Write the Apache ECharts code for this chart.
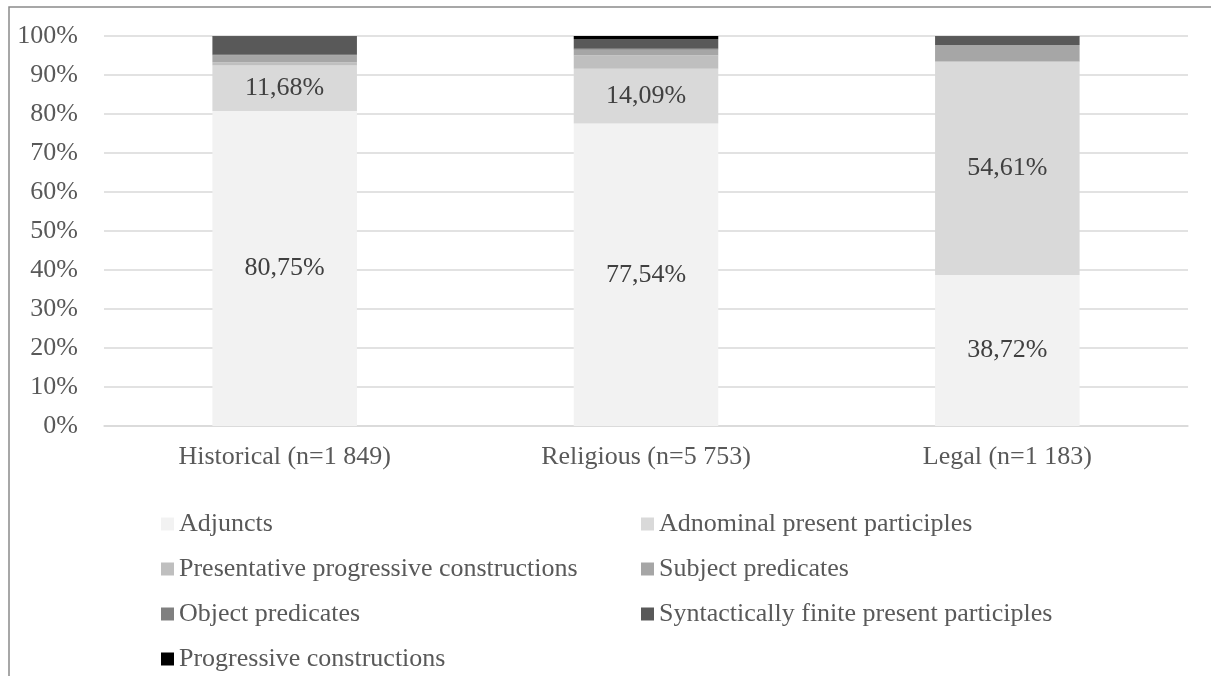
<!DOCTYPE html>
<html>
<head>
<meta charset="utf-8">
<script src="https://cdn.jsdelivr.net/npm/echarts@6/dist/echarts.min.js"></script>
<style>
  html, body { margin: 0; padding: 0; background: #fff; }
  #chart { width: 1211px; height: 676px; }
</style>
</head>
<body>
<div id="chart"></div>
<script>
const categories = ["Historical (n=1 849)", "Religious (n=5 753)", "Legal (n=1 183)"];
const seriesNames = [
  "Adjuncts",
  "Adnominal present participles",
  "Presentative progressive constructions",
  "Subject predicates",
  "Object predicates",
  "Syntactically finite present participles",
  "Progressive constructions"
];
const adjuncts = [80.75, 77.54, 38.72];
const adnominal = [11.68, 14.09, 54.61];
const presentative = [0.87, 3.42, 0.17];
const subjectPred = [1.73, 1.45, 4.22];
const objectPred = [0.16, 0.2, 0.0];
const synFinite = [4.76, 2.53, 2.2];
const progressive = [0.05, 0.77, 0.08];
const yTicks = [0, 10, 20, 30, 40, 50, 60, 70, 80, 90, 100];

const colors = ["#f2f2f2", "#d9d9d9", "#bfbfbf", "#a6a6a6", "#808080", "#595959", "#000000"];
const values = [adjuncts, adnominal, presentative, subjectPred, objectPred, synFinite, progressive];
const font = "'Liberation Serif', 'Times New Roman', serif";

let chart = echarts.init(document.getElementById("chart"));

let series = seriesNames.map((name, i) => ({
  name: name,
  type: "bar",
  stack: "total",
  barWidth: "40%",
  data: values[i],
  itemStyle: { color: colors[i] },
  label: {
    show: i < 2,
    position: "inside",
    color: "#404040",
    fontFamily: font,
    fontSize: 26,
    formatter: p => p.value.toFixed(2).replace(".", ",") + "%"
  },
  emphasis: { disabled: true }
}));

const legendText = { color: "#595959", fontFamily: font, fontSize: 26, lineHeight: 26 };

chart.setOption({
  animation: false,
  backgroundColor: "#fff",
  graphic: [{
    type: "rect",
    shape: { x: 9, y: 7, width: 1300, height: 800 },
    style: { fill: null, stroke: "#8a8a8a", lineWidth: 1.5 },
    silent: true
  }],
  grid: { left: 104, right: 23, top: 36, bottom: 250 },
  legend: [
    {
      orient: "vertical",
      left: 161,
      top: 511,
      padding: 0,
      itemWidth: 13,
      itemHeight: 13,
      itemGap: 19,
      itemTextGap: 5,
      icon: "rect",
      textStyle: legendText,
      data: [seriesNames[0], seriesNames[2], seriesNames[4], seriesNames[6]]
    },
    {
      orient: "vertical",
      left: 641,
      top: 511,
      padding: 0,
      itemWidth: 13,
      itemHeight: 13,
      itemGap: 19,
      itemTextGap: 5,
      icon: "rect",
      textStyle: legendText,
      data: [seriesNames[1], seriesNames[3], seriesNames[5]]
    }
  ],
  xAxis: {
    type: "category",
    data: categories,
    axisLine: { lineStyle: { color: "#d9d9d9", width: 1.5 } },
    axisTick: { show: false },
    axisLabel: { color: "#595959", fontFamily: font, fontSize: 26, margin: 18 }
  },
  yAxis: {
    type: "value",
    min: yTicks[0],
    max: yTicks[yTicks.length - 1],
    interval: 10,
    axisLine: { show: false },
    axisTick: { show: false },
    splitLine: { lineStyle: { color: "#d9d9d9", width: 1.5 } },
    axisLabel: {
      color: "#595959",
      fontFamily: font,
      fontSize: 26,
      margin: 26,
      formatter: v => v + "%"
    }
  },
  series: series
});
</script>
</body>
</html>
